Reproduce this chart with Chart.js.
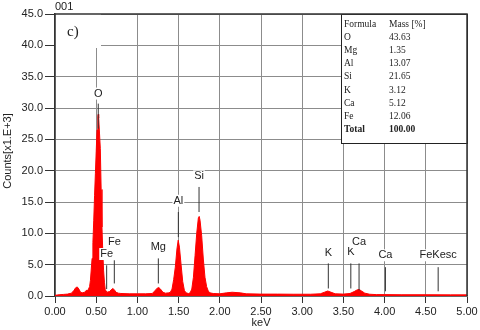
<!DOCTYPE html>
<html>
<head>
<meta charset="utf-8">
<script src="https://cdn.jsdelivr.net/npm/chart.js@4"></script>
<style>
  body { margin: 0; background: #fff; }
  canvas { display: block; }
</style>
</head>
<body>
<canvas id="eds" width="480" height="330"></canvas>
<script>
// EDS spectrum, counts in thousands
const energy = [0.00, 0.05, 0.10, 0.15, 0.20, 0.23, 0.25, 0.27, 0.29, 0.31, 0.33, 0.36, 0.38, 0.40,
  0.42, 0.43, 0.45, 0.46, 0.47, 0.48, 0.49, 0.50, 0.51, 0.52, 0.525, 0.53, 0.54, 0.55, 0.56, 0.57,
  0.58, 0.59, 0.60, 0.61, 0.63, 0.66, 0.68, 0.70, 0.72, 0.74, 0.77, 0.80, 0.90, 1.00, 1.10, 1.18,
  1.21, 1.24, 1.26, 1.28, 1.31, 1.34, 1.38, 1.40, 1.42, 1.44, 1.46, 1.48, 1.495, 1.51, 1.53, 1.55,
  1.57, 1.59, 1.62, 1.64, 1.66, 1.68, 1.70, 1.72, 1.74, 1.75, 1.76, 1.78, 1.80, 1.82, 1.84, 1.86,
  1.88, 1.92, 2.00, 2.08, 2.15, 2.25, 2.32, 2.50, 2.70, 2.90, 3.10, 3.22, 3.27, 3.31, 3.35, 3.40,
  3.50, 3.58, 3.63, 3.67, 3.69, 3.72, 3.76, 3.82, 3.90, 4.00, 4.20, 4.50, 4.80, 5.00];
const counts = [0.1, 0.2, 0.25, 0.3, 0.45, 0.9, 1.3, 1.45, 1.1, 0.6, 0.5, 0.6, 0.9, 0.9,
  1.5, 2.5, 6, 8.5, 12, 16, 19.5, 23, 26.5, 28.7, 29.0, 28.4, 26, 23.5, 17, 11,
  7, 4, 2.2, 1.0, 0.6, 0.7, 0.95, 1.2, 1.0, 0.6, 0.45, 0.4, 0.35, 0.35, 0.35, 0.4,
  0.8, 1.25, 1.35, 1.1, 0.6, 0.45, 0.5, 0.6, 1.1, 2.6, 4.6, 7.5, 8.9, 7.8, 5.0, 2.3,
  0.9, 0.5, 0.4, 0.5, 1.1, 3.0, 6.5, 10.0, 12.5, 12.7, 12.1, 9.6, 5.9, 3.0, 1.5, 0.8,
  0.5, 0.4, 0.35, 0.5, 0.6, 0.5, 0.35, 0.3, 0.3, 0.28, 0.28, 0.35, 0.6, 0.8, 0.6, 0.35,
  0.3, 0.4, 0.7, 1.0, 1.05, 0.8, 0.45, 0.28, 0.22, 0.22, 0.2, 0.2, 0.18, 0.18];

// peak markers
const markerNames = ["O", "Fe", "Fe", "Mg", "Al", "Si", "K", "K", "Ca", "Ca", "FeKesc"];
const markerKeV = [0.525, 0.627, 0.72, 1.254, 1.497, 1.748, 3.317, 3.59, 3.69, 4.01, 4.65];
const markerTop = [30.7, 4.9, 5.7, 6.0, 13.4, 17.4, 5.2, 5.2, 5.2, 4.6, 4.6];
const markerBottom = [26.7, 1.1, 2.0, 2.0, 9.4, 13.4, 1.2, 1.2, 0.9, 0.75, 0.75];
const markerLabelY = [32.3, 6.7, 8.7, 7.8, 15.2, 19.1, 6.9, 7.0, 8.6, 6.5, 6.5];

// composition table
const elements = ["O", "Mg", "Al", "Si", "K", "Ca", "Fe"];
const massPct = ["43.63", "1.35", "13.07", "21.65", "3.12", "5.12", "12.06"];
const massTotal = "100.00";

const sans = "'Liberation Sans', Arial, sans-serif";
const serif = "'Liberation Serif', 'Times New Roman', serif";

const datasets = [{
  data: energy.map((e, i) => ({ x: e, y: counts[i] })),
  borderColor: "#ff0000",
  backgroundColor: "#ff0000",
  borderWidth: 1,
  pointRadius: 0,
  tension: 0,
  fill: "origin",
  order: 1
}];
markerKeV.forEach((k, i) => {
  datasets.push({
    data: [{ x: k, y: markerBottom[i] }, { x: k, y: markerTop[i] }],
    borderColor: "#333",
    borderWidth: 1,
    pointRadius: 0,
    fill: false,
    order: 0
  });
});

const decor = {
  id: "decor",
  afterDraw(chart) {
    const { ctx, chartArea: a, scales: { x, y } } = chart;
    ctx.save();

    // blank corner behind "c)"
    ctx.fillStyle = "#fff";
    ctx.fillRect(a.left + 1, a.top, 45, 34);
    ctx.fillStyle = "#222";
    ctx.font = "15px " + serif;
    ctx.textBaseline = "middle";
    ctx.textAlign = "left";
    ctx.fillText("c)", a.left + 12, a.top + 18);

    // composition table
    const tx = 341, ty = a.top, tw = a.right - tx, th = 129;
    ctx.fillStyle = "#fff";
    ctx.fillRect(tx, ty, tw, th);
    ctx.strokeStyle = "#222";
    ctx.lineWidth = 1;
    ctx.strokeRect(tx + 0.5, ty + 0.5, tw, th);
    ctx.fillStyle = "#222";
    ctx.font = "9.5px " + serif;
    ctx.fillText("Formula", tx + 3, ty + 10);
    ctx.fillText("Mass [%]", tx + 48, ty + 10);
    elements.forEach((el, i) => {
      const ry = ty + 23 + i * 13.3;
      ctx.fillText(el, tx + 3, ry);
      ctx.fillText(massPct[i], tx + 48, ry);
    });
    ctx.font = "bold 9.5px " + serif;
    ctx.fillText("Total", tx + 3, ty + 116);
    ctx.fillText(massTotal, tx + 48, ty + 116);

    // frame top + right
    ctx.strokeStyle = "#333";
    ctx.lineWidth = 1.5;
    ctx.beginPath();
    ctx.moveTo(a.left, a.top);
    ctx.lineTo(a.right, a.top);
    ctx.lineTo(a.right, a.bottom);
    ctx.stroke();

    // peak labels
    ctx.font = "11px " + sans;
    ctx.textAlign = "center";
    markerNames.forEach((name, i) => {
      const px = x.getPixelForValue(markerKeV[i]);
      const py = y.getPixelForValue(markerLabelY[i]);
      const w = ctx.measureText(name).width;
      ctx.fillStyle = "#fff";
      ctx.fillRect(px - w / 2 - 1, py - 6, w + 2, 12);
      ctx.fillStyle = "#222";
      ctx.fillText(name, px, py);
    });

    // titles
    ctx.fillText("keV", (a.left + a.right) / 2, 323);
    ctx.textAlign = "left";
    ctx.fillText("001", a.left, 7);
    ctx.translate(8, 151);
    ctx.rotate(-Math.PI / 2);
    ctx.textAlign = "center";
    ctx.fillText("Counts[x1.E+3]", 0, 0);
    ctx.restore();
  }
};

new Chart(document.getElementById("eds"), {
  type: "line",
  data: { datasets },
  options: {
    responsive: false,
    animation: false,
    devicePixelRatio: 1,
    layout: { padding: { top: 14, right: 13, left: 0, bottom: 0 } },
    plugins: { legend: { display: false }, tooltip: { enabled: false } },
    scales: {
      x: {
        type: "linear",
        min: 0,
        max: 5,
        afterFit: s => { s.height = 34; },
        ticks: {
          stepSize: 0.5,
          maxRotation: 0,
          padding: 2,
          color: "#222",
          font: { family: sans, size: 11 },
          callback: v => v.toFixed(2)
        },
        grid: { color: "#8c8c8c", lineWidth: 1, tickLength: 7, tickColor: "#333" },
        border: { color: "#444", width: 1.5 }
      },
      y: {
        min: 0,
        max: 45,
        afterFit: s => { s.width = 55; },
        ticks: {
          stepSize: 5,
          padding: 2,
          color: "#222",
          font: { family: sans, size: 11 },
          callback: v => v.toFixed(1)
        },
        grid: { color: "#8c8c8c", lineWidth: 1, tickLength: 10, tickColor: "#333" },
        border: { color: "#333", width: 1.5 }
      }
    }
  },
  plugins: [decor]
});
</script>
</body>
</html>
